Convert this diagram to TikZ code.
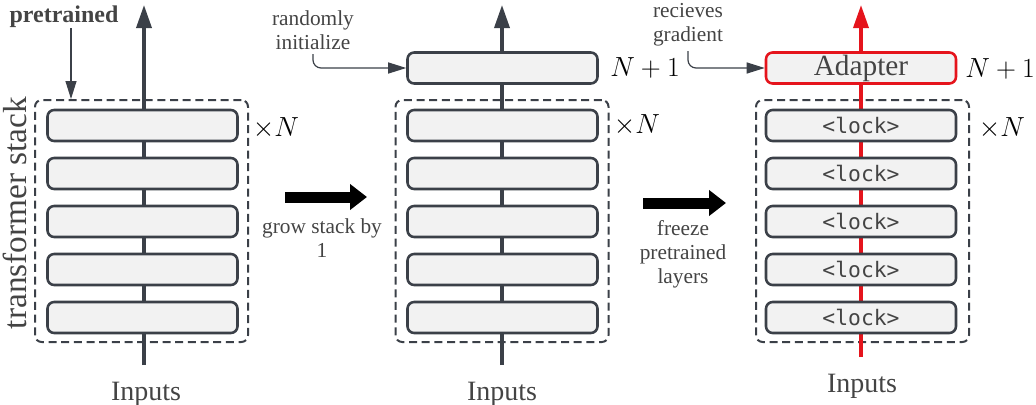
\documentclass[tikz,border=0pt]{standalone}
\usepackage{fontspec}
\setmainfont{Liberation Serif}
\setmonofont{DejaVu Sans Mono}
\usetikzlibrary{arrows.meta}
\definecolor{inkgray}{HTML}{3B4048}
\definecolor{txtgray}{HTML}{444444}
\definecolor{layerfill}{HTML}{F2F2F2}
\definecolor{gradred}{HTML}{E5141C}
\tikzset{%
  % Specifications for style of nodes:
       layer/.style = {rectangle, rounded corners=5pt, draw=inkgray,
                       line width=1.9pt, fill=layerfill, inner sep=0pt,
                       minimum width=142.5pt, minimum height=23.25pt,
                       text=txtgray},
   lockLayer/.style = {layer, font=\ttfamily\fontsize{16}{18}\selectfont},
  adapterBox/.style = {layer, draw=gradred,
                       font=\fontsize{22}{24}\selectfont},
  stackframe/.style = {rectangle, rounded corners=5pt, draw=inkgray,
                       dash pattern=on 6pt off 3.5pt, line width=1.5pt,
                       minimum width=159.75pt, minimum height=181.5pt},
        note/.style = {text=txtgray, align=center,
                       font=\fontsize{16}{18}\selectfont},
      inputs/.style = {text=txtgray, anchor=base,
                       font=\fontsize{21}{24}\selectfont},
       count/.style = {text=black, font=\fontsize{21}{24}\selectfont},
  % Specifications for style of connectors:
        flow/.style = {draw=inkgray, line width=2.6pt,
                       -{Triangle[width=11.25pt,length=17.25pt]}},
    gradflow/.style = {flow, draw=gradred},
     pointer/.style = {draw=inkgray, line width=0.9pt,
                       -{Triangle[width=8.25pt,length=13.5pt]}},
    bigarrow/.style = {draw=black, line width=8.25pt,
                       -{Triangle[width=18.75pt,length=12.75pt]}},
}
\begin{document}
\begin{tikzpicture}[x=0.75pt, y=-0.75pt]
  \useasboundingbox (0,0) rectangle (1036,404);
  % Stack frames
  \node (frameA) [stackframe] at (141.5,221) {};
  \node (frameB) [stackframe] at (502,221)   {};
  \node (frameC) [stackframe] at (862.5,221) {};
  % Data flow through each stack (boxes are drawn on top)
  \coordinate (inA)  at (144,365); \coordinate (outA) at (144,5);
  \coordinate (inB)  at (502,365); \coordinate (outB) at (502,5);
  \coordinate (inC)  at (861,357); \coordinate (outC) at (861,5);
  \draw[flow]     (inA) -- (outA);
  \draw[flow]     (inB) -- (outB);
  \draw[gradflow] (inC) -- (outC);
  % First stack: pretrained layers
  \node (layerA1) [layer] at (142.5,125.5) {};
  \node (layerA2) [layer] at (142.5,173.5) {};
  \node (layerA3) [layer] at (142.5,221.5) {};
  \node (layerA4) [layer] at (142.5,269.5) {};
  \node (layerA5) [layer] at (142.5,317.5) {};
  % Second stack: one new layer on top
  \node (newB)    [layer] at (502.5,68)    {};
  \node (layerB1) [layer] at (502.5,125.5) {};
  \node (layerB2) [layer] at (502.5,173.5) {};
  \node (layerB3) [layer] at (502.5,221.5) {};
  \node (layerB4) [layer] at (502.5,269.5) {};
  \node (layerB5) [layer] at (502.5,317.5) {};
  % Third stack: frozen layers and adapter
  \node (adapter) [adapterBox] at (861,68)    {Adapter};
  \node (lockC1)  [lockLayer]  at (861,125.5) {<lock>};
  \node (lockC2)  [lockLayer]  at (861,173.5) {<lock>};
  \node (lockC3)  [lockLayer]  at (861,221.5) {<lock>};
  \node (lockC4)  [lockLayer]  at (861,269.5) {<lock>};
  \node (lockC5)  [lockLayer]  at (861,317.5) {<lock>};
  % Labels of the stacks
  \node (stackname) [text=txtgray, rotate=90, font=\fontsize{25}{28}\selectfont]
        at (15,213) {transformer stack};
  \node (timesA) [count] at (276,128)  {$\times N$};
  \node (timesB) [count] at (637,125)  {$\times N$};
  \node (timesC) [count] at (1002,128) {$\times N$};
  \node (plusB)  [count] at (645,68)   {$N+1$};
  \node (plusC)  [count] at (1000,69)  {$N+1$};
  \node (inputsA) [inputs] at (146,400) {Inputs};
  \node (inputsB) [inputs] at (502,400) {Inputs};
  \node (inputsC) [inputs] at (862,392) {Inputs};
  % Annotations with pointers
  \node (pretrained) [note, font=\bfseries\fontsize{18}{20}\selectfont]
        at (64,17) {pretrained};
  \coordinate (ptstart) at (71,28);
  \draw[pointer] (ptstart) -- (ptstart |- frameA.north);
  \node (randinit) [note] at (313,30) {randomly\\initialize};
  \draw[pointer, rounded corners=6pt] (randinit.south) |- (newB.west);
  \node (getsgrad) [note] at (688,25) {recieves\\gradient};
  \draw[pointer, rounded corners=6pt] (getsgrad.south) |- (adapter.west);
  % Steps between the stacks
  \coordinate (growS)   at (285,197); \coordinate (growE)   at (367,197);
  \coordinate (freezeS) at (643,203); \coordinate (freezeE) at (726,203);
  \draw[bigarrow] (growS) -- (growE);
  \draw[bigarrow] (freezeS) -- (freezeE);
  \node (growtext)   [note] at (322,238) {grow stack by\\1};
  \node (freezetext) [note] at (683,254) {freeze\\pretrained\\layers};
\end{tikzpicture}
\end{document}
